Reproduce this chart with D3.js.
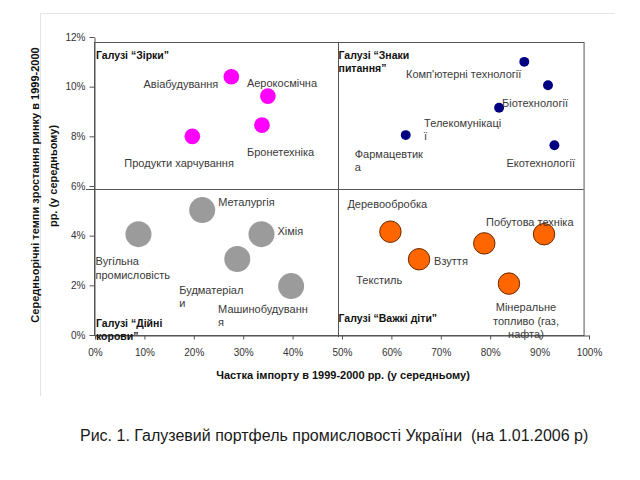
<!DOCTYPE html>
<html>
<head>
<meta charset="utf-8">
<script src="https://cdn.jsdelivr.net/npm/d3@7"></script>
<style>
  html, body { margin: 0; padding: 0; background: #ffffff; }
  svg { display: block; font-family: "Liberation Sans", Arial, sans-serif; }
</style>
</head>
<body>
<svg id="chart" width="640" height="480"></svg>
<script>
// ---------- DATA ----------
const groupNames = ["Зірки", "Знаки питання", "Дійні корови", "Важкі діти"];
const groupSizes = [4, 1.6, 11, 7.5];           // relative bubble size per group
const groupColors = ["#ff00ff", "#000080", "#9b9b9b", "#ff6600"];

const industries = [
  "Авіабудування", "Аерокосмічна", "Бронетехніка", "Продукти харчування",
  "Комп'ютерні технології", "Біотехнології", "Телекомунікації", "Фармацевтика", "Екотехнології",
  "Вугільна промисловість", "Металургія", "Хімія", "Будматеріали", "Машинобудування",
  "Деревообробка", "Взуття", "Текстиль", "Побутова техніка", "Мінеральне топливо (газ, нафта)"
];
const industryGroup = [0,0,0,0, 1,1,1,1,1, 2,2,2,2,2, 3,3,3,3,3];
const importShare = [0.276, 0.350, 0.338, 0.197,
                     0.869, 0.917, 0.818, 0.629, 0.930,
                     0.088, 0.217, 0.337, 0.288, 0.397,
                     0.598, 0.656, 0.788, 0.909, 0.838];
const marketGrowth = [0.104, 0.0962, 0.0845, 0.0800,
                      0.1100, 0.1006, 0.0915, 0.0805, 0.0764,
                      0.0406, 0.0503, 0.0406, 0.0306, 0.0197,
                      0.0416, 0.0305, 0.0369, 0.0406, 0.0207];

const xTicks = [0, 0.1, 0.2, 0.3, 0.4, 0.5, 0.6, 0.7, 0.8, 0.9, 1.0];
const yTicks = [0, 0.02, 0.04, 0.06, 0.08, 0.10, 0.12];

// label text lines (as written on the chart)
const labelLines = [
  ["Авіабудування"], ["Аерокосмічна"], ["Бронетехніка"], ["Продукти харчування"],
  ["Комп'ютерні технології"], ["Біотехнології"], ["Телекомунікаці", "ї"], ["Фармацевтик", "а"], ["Екотехнології"],
  ["Вугільна", "промисловість"], ["Металургія"], ["Хімія"], ["Будматеріал", "и"], ["Машинобудуванн", "я"],
  ["Деревообробка"], ["Взуття"], ["Текстиль"], ["Побутова техніка"], ["Мінеральне", "топливо (газ,", "нафта)"]
];

const quadrantTitles = [
  ["Галузі “Зірки”"], ["Галузі “Знаки", "питання”"], ["Галузі “Дійні", "корови”"], ["Галузі “Важкі діти”"]
];

const xTitle = "Частка імпорту в 1999-2000 рр. (у середньому)";
const yTitle = ["Середньорічні темпи зростання ринку в 1999-2000", "рр. (у середньому)"];
const caption = "Рис. 1. Галузевий портфель промисловості України  (на 1.01.2006 р)";

// ---------- LAYOUT ----------
// label offsets (px) from bubble centre: [dx, dy, anchor]
const labelLayout = [
  [-13, 7, "end"], [-21, -13, "start"], [-15, 27, "start"], [-68, 27, "start"],
  [-3, 12, "end"], [-46, 18, "start"], [-75, 15, "start"], [-51, 19, "start"], [-48, 18, "start"],
  [-43, 27, "start"], [16, -8, "start"], [16, -3, "start"], [-58, 31, "start"], [-73, 23, "start"],
  [-43, -28, "start"], [15, 2, "start"], [-128, 37, "start"], [-58, -12, "start"], [17, 24, "middle"]
];

const svg = d3.select("#chart");

// faint page frame
svg.append("line").attr("x1", 40).attr("x2", 615).attr("y1", 13.5).attr("y2", 13.5)
  .attr("stroke", "#e4e4e4").attr("stroke-width", 1);
svg.append("line").attr("x1", 40.5).attr("x2", 40.5).attr("y1", 13).attr("y2", 396)
  .attr("stroke", "#e4e4e4").attr("stroke-width", 1);

const x = d3.scaleLinear().domain([0, 1]).range([95, 589]);
const y = d3.scaleLinear().domain([0, 0.12]).range([335, 37]);
const r = d3.scaleSqrt().domain([0, 11]).range([0, 13]);

const axisColor = "#555";
const fmt = d3.format(".0%");

// quadrant box
const boxL = 94, boxR = x(0.989), boxT = y(0.118), boxB = y(0);
const midX = x(0.491), midY = y(0.0588);
const box = svg.append("g").attr("fill", "none").attr("stroke", axisColor).attr("stroke-width", 1);
box.append("rect").attr("x", boxL + 0.5).attr("y", Math.round(boxT) + 0.5)
  .attr("width", boxR - boxL).attr("height", boxB - boxT);
box.append("line").attr("x1", Math.round(midX) + 0.5).attr("x2", Math.round(midX) + 0.5)
  .attr("y1", boxT).attr("y2", boxB + 2);
box.append("line").attr("x1", boxL - 8).attr("x2", boxR)
  .attr("y1", Math.round(midY) + 0.5).attr("y2", Math.round(midY) + 0.5);

// axes
const yAxis = svg.append("g").attr("transform", `translate(${boxL + 0.5},0)`)
  .call(d3.axisLeft(y).tickValues(yTicks).tickFormat(fmt).tickSize(5).tickSizeOuter(0).tickPadding(4));
const xAxis = svg.append("g").attr("transform", `translate(0,${boxB + 0.5})`)
  .call(d3.axisBottom(x).tickValues(xTicks).tickFormat(fmt).tickSize(4).tickSizeOuter(0).tickPadding(9));
[xAxis, yAxis].forEach(a => {
  a.select(".domain").attr("stroke", axisColor);
  a.selectAll(".tick line").attr("stroke", axisColor);
  a.selectAll(".tick text").attr("fill", "#333").attr("font-size", 10)
    .attr("font-family", "Liberation Sans, Arial, sans-serif");
});

// bubbles
const idx = d3.range(industries.length);
svg.append("g").selectAll("circle").data(idx).join("circle")
  .attr("cx", i => x(importShare[i]))
  .attr("cy", i => y(marketGrowth[i]))
  .attr("r", i => r(groupSizes[industryGroup[i]]))
  .attr("fill", i => groupColors[industryGroup[i]])
  .attr("stroke", i => industryGroup[i] === 3 ? "#6b2a00" : "none")
  .attr("stroke-width", 1);

// bubble labels
const lbl = svg.append("g").attr("font-size", 11).attr("fill", "#3a3a3a");
idx.forEach(i => {
  const cx = x(importShare[i]) + labelLayout[i][0];
  const cy = y(marketGrowth[i]) + labelLayout[i][1];
  const t = lbl.append("text").attr("text-anchor", labelLayout[i][2]);
  labelLines[i].forEach((line, k) => {
    t.append("tspan").attr("x", cx).attr("y", cy + k * 13.5).attr("dy", "0.35em").text(line);
  });
});

// quadrant titles
const qPos = [
  [boxL + 2, boxT + 13], [midX + 1, boxT + 13],
  [boxL + 2, boxB - 12], [midX + 1, boxB - 17]
];
const qt = svg.append("g").attr("font-size", 10.5).attr("font-weight", "bold").attr("fill", "#111");
quadrantTitles.forEach((lines, q) => {
  const t = qt.append("text");
  lines.forEach((line, k) => {
    t.append("tspan").attr("x", qPos[q][0]).attr("y", qPos[q][1] + k * 13.5).attr("dy", "0.35em").text(line);
  });
});

// axis titles
svg.append("text").attr("x", 343).attr("y", 375).attr("dy", "0.35em")
  .attr("text-anchor", "middle").attr("font-size", 11).attr("font-weight", "bold").attr("fill", "#111")
  .text(xTitle);
const yt = svg.append("g").attr("font-size", 11).attr("font-weight", "bold").attr("fill", "#111");
yt.append("text").attr("transform", "translate(35,185) rotate(-90)").attr("dy", "0.35em")
  .attr("text-anchor", "middle").text(yTitle[0]);
yt.append("text").attr("transform", "translate(53,176) rotate(-90)").attr("dy", "0.35em")
  .attr("text-anchor", "middle").text(yTitle[1]);

// caption
svg.append("text").attr("x", 80).attr("y", 435).attr("dy", "0.35em")
  .attr("font-size", 16).attr("fill", "#1a1a1a").style("white-space", "pre").text(caption);
</script>
</body>
</html>
